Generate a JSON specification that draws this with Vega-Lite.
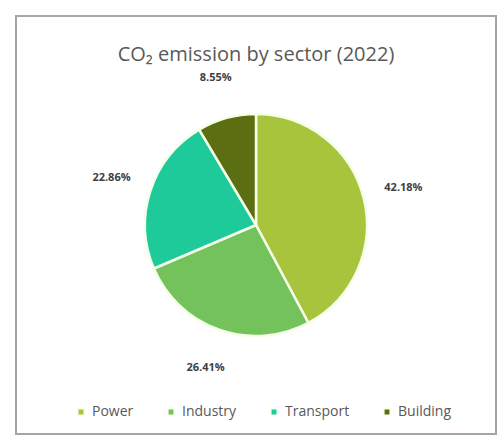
{
  "$schema": "https://vega.github.io/schema/vega-lite/v6.json",
  "width": 497,
  "height": 439,
  "autosize": {"type": "fit", "contains": "padding"},
  "padding": {"top": 15, "left": 15, "right": 0, "bottom": 4},
  "background": "white",
  "config": {
    "view": {"stroke": null},
    "font": "Open Sans"
  },
  "title": {
    "text": "CO₂ emission by sector (2022)",
    "fontSize": 20,
    "fontWeight": "normal",
    "color": "#595959",
    "font": "Open Sans",
    "offset": -50,
    "anchor": "middle"
  },
  "layer": [
    {
      "data": {"values": [{"frame": 1}]},
      "mark": {"type": "rect", "fill": "white", "stroke": "#a6a6a6", "strokeWidth": 2},
      "encoding": {}
    },
    {
      "data": {"name": "sectors"},
      "mark": {"type": "arc", "outerRadius": 111, "stroke": "#f4ffe8", "strokeWidth": 2.5},
      "encoding": {
        "theta": {"field": "share", "type": "quantitative", "stack": true},
        "order": {"field": "rank", "type": "quantitative"},
        "color": {
          "field": "sector",
          "type": "nominal",
          "sort": ["Power", "Industry", "Transport", "Building"],
          "scale": {
            "domain": ["Power", "Industry", "Transport", "Building"],
            "range": ["#a8c43c", "#74c25c", "#1ec99a", "#5c6e12"]
          },
          "legend": {
            "orient": "none",
            "direction": "horizontal",
            "legendX": 58,
            "legendY": 389,
            "title": null,
            "symbolType": "square",
            "symbolSize": 40,
            "labelFontSize": 14,
            "labelColor": "#595959",
            "labelFont": "Open Sans",
            "columnPadding": 30
          }
        }
      }
    },
    {
      "data": {"name": "sectors"},
      "mark": {"type": "text", "radius": 152, "fontSize": 11, "fontWeight": "bold", "color": "#404040"},
      "encoding": {
        "theta": {"field": "share", "type": "quantitative", "stack": true},
        "order": {"field": "rank", "type": "quantitative"},
        "text": {"field": "share", "type": "quantitative", "format": ".2%"}
      }
    }
  ],
  "datasets": {
    "sectors": [
      {"sector": "Power", "share": 0.4218, "rank": 1},
      {"sector": "Industry", "share": 0.2641, "rank": 2},
      {"sector": "Transport", "share": 0.2286, "rank": 3},
      {"sector": "Building", "share": 0.0855, "rank": 4}
    ]
  }
}
